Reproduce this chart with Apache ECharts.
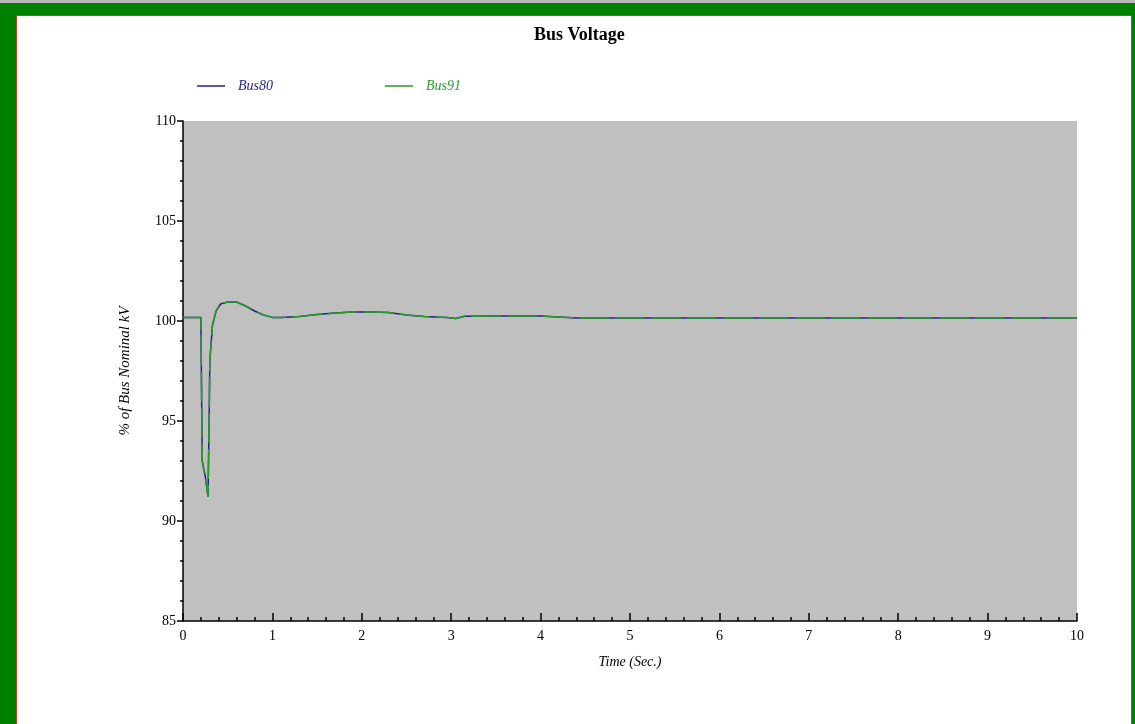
<!DOCTYPE html>
<html><head><meta charset="utf-8">
<script src="https://cdn.jsdelivr.net/npm/echarts@6/dist/echarts.min.js"></script>
<style>
html,body{margin:0;padding:0;width:1135px;height:724px;overflow:hidden;background:#008000;}
#top{position:absolute;left:0;top:0;width:1135px;height:3px;background:#b8b8b8;}
#inner{position:absolute;left:16px;top:15px;width:1116px;height:709px;background:#fff;border-top:1px solid #c04030;border-left:1px solid #c04030;border-right:1px solid #c04030;box-sizing:border-box;}
#chart{position:absolute;left:0;top:0;width:1135px;height:724px;}
</style></head>
<body>
<div id="top"></div><div id="inner"></div>
<div id="chart"></div>
<script>
const seriesNames = ['Bus80', 'Bus91'];
const time = [0, 0.2, 0.21, 0.215, 0.25, 0.28, 0.29, 0.295, 0.3, 0.33, 0.37, 0.42, 0.5, 0.6, 0.7, 0.8, 0.9, 1.0, 1.1, 1.3, 1.5, 1.7, 1.9, 2.1, 2.3, 2.5, 2.7, 2.95, 3.05, 3.15, 3.5, 4.0, 4.2, 4.4, 10];
const bus80 = [100.18, 100.18, 100.18, 93.0, 92.2, 91.2, 91.2, 96.0, 98.0, 99.8, 100.5, 100.85, 100.95, 100.95, 100.75, 100.5, 100.3, 100.18, 100.17, 100.22, 100.32, 100.4, 100.45, 100.45, 100.42, 100.3, 100.22, 100.18, 100.13, 100.24, 100.25, 100.25, 100.2, 100.15, 100.15];
const bus91 = [100.18, 100.18, 100.18, 93.0, 92.2, 91.2, 91.2, 96.0, 98.0, 99.8, 100.5, 100.85, 100.95, 100.95, 100.75, 100.5, 100.3, 100.18, 100.17, 100.22, 100.32, 100.4, 100.45, 100.45, 100.42, 100.3, 100.22, 100.18, 100.13, 100.24, 100.25, 100.25, 100.2, 100.15, 100.15];
const xTicks = [0, 1, 2, 3, 4, 5, 6, 7, 8, 9, 10];
const yTicks = [85, 90, 95, 100, 105, 110];

const serif = 'Liberation Serif, DejaVu Serif, serif';
const blue = '#22228a', green = '#2a9a2a';
const chart = echarts.init(document.getElementById('chart'));
chart.setOption({
  backgroundColor: 'transparent',
  animation: false,
  title: {text: 'Bus Voltage', left: 529, top: 21,
    textStyle: {fontFamily: serif, fontSize: 18, fontWeight: 'bold', color: '#000'}},
  legend: {
    left: 192, top: 74, icon: 'rect', itemWidth: 28, itemHeight: 1.5, itemGap: 112,
    data: [
      {name: seriesNames[0], textStyle: {color: blue}},
      {name: seriesNames[1], textStyle: {color: green}}
    ],
    textStyle: {fontFamily: serif, fontStyle: 'italic', fontSize: 14, padding: [0, 0, 0, 8]}
  },
  grid: {left: 183, top: 121, right: 58, bottom: 103, show: true, backgroundColor: '#c0c0c0', borderWidth: 0},
  xAxis: {
    type: 'value', min: xTicks[0], max: xTicks[xTicks.length - 1], interval: 1,
    name: 'Time (Sec.)', nameLocation: 'middle', nameGap: 34,
    nameTextStyle: {fontFamily: serif, fontStyle: 'italic', fontSize: 14, color: '#000'},
    axisLine: {lineStyle: {color: '#000', width: 1.5}},
    axisTick: {inside: true, length: 8, lineStyle: {color: '#000', width: 1.5}},
    minorTick: {show: true, splitNumber: 5, length: 4, lineStyle: {color: '#000', width: 1.5}},
    axisLabel: {fontFamily: serif, fontSize: 14, color: '#000', margin: 8},
    splitLine: {show: false}
  },
  yAxis: {
    type: 'value', min: yTicks[0], max: yTicks[yTicks.length - 1], interval: 5,
    name: '% of Bus Nominal kV', nameLocation: 'middle', nameGap: 50, nameRotate: 90,
    nameTextStyle: {fontFamily: serif, fontStyle: 'italic', fontSize: 15, color: '#000'},
    axisLine: {show: true, lineStyle: {color: '#000', width: 1.5}},
    axisTick: {show: true, inside: false, length: 6, lineStyle: {color: '#000', width: 1.5}},
    minorTick: {show: true, splitNumber: 5, length: 3, lineStyle: {color: '#000', width: 1.5}},
    axisLabel: {fontFamily: serif, fontSize: 14, color: '#000', margin: 7},
    splitLine: {show: false}
  },
  series: [
    {name: seriesNames[0], type: 'line', symbol: 'none', color: blue,
     lineStyle: {color: blue, width: 1.5},
     data: time.map((t, i) => [t, bus80[i]])},
    {name: seriesNames[1], type: 'line', symbol: 'none', color: green,
     lineStyle: {color: green, width: 1.5, type: [30, 6]},
     data: time.map((t, i) => [t, bus91[i]])}
  ]
});
</script>
</body></html>
